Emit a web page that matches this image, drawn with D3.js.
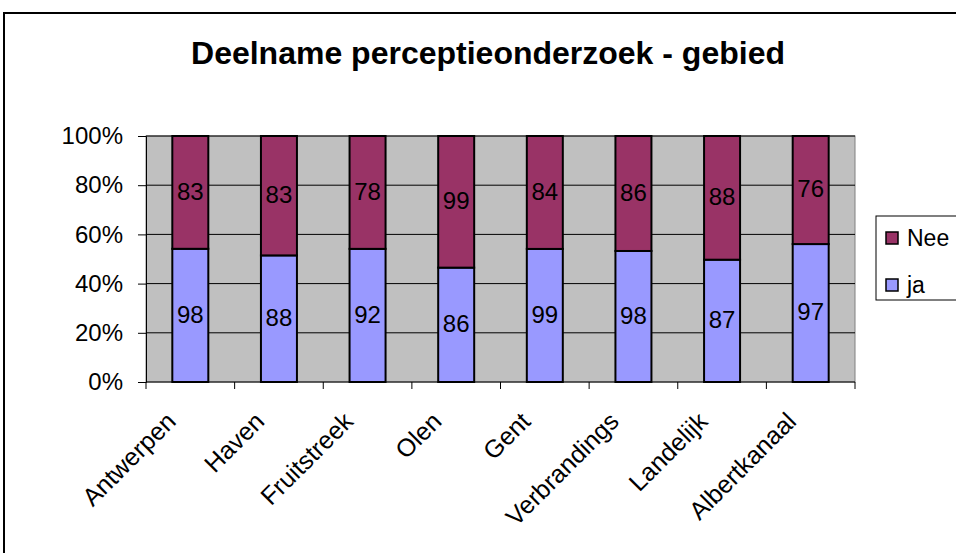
<!DOCTYPE html>
<html>
<head>
<meta charset="utf-8">
<script src="https://cdn.jsdelivr.net/npm/d3@7"></script>
<style>
  body { margin: 0; background: #fff; }
  text { font-family: "Liberation Sans", Arial, sans-serif; }
</style>
</head>
<body>
<svg id="chart" width="956" height="553"></svg>
<script>
// gegevens
var gebieden = ["Antwerpen", "Haven", "Fruitstreek", "Olen", "Gent", "Verbrandings", "Landelijk", "Albertkanaal"];
var ja = [98, 88, 92, 86, 99, 98, 87, 97];
var nee = [83, 83, 78, 99, 84, 86, 88, 76];
var yTicks = [0, 0.2, 0.4, 0.6, 0.8, 1];

var svg = d3.select("#chart");
var pLeft = 146, pRight = 855, pTop = 136, pBottom = 382;
var fs = 24; // lettergrootte

// buitenrand
svg.append("rect")
    .attr("x", 4).attr("y", 13)
    .attr("width", 1000).attr("height", 600)
    .attr("fill", "#fff").attr("stroke", "#000").attr("stroke-width", 2);

// titel
svg.append("text")
    .attr("x", 488).attr("y", 64)
    .attr("text-anchor", "middle")
    .attr("font-size", 32).attr("font-weight", "bold")
    .text("Deelname perceptieonderzoek - gebied");

var x = d3.scaleBand().domain(gebieden).range([pLeft, pRight]);
var y = d3.scaleLinear().domain([0, 1]).range([pBottom, pTop]);

// plotgebied
svg.append("rect")
    .attr("x", pLeft).attr("y", pTop)
    .attr("width", pRight - pLeft).attr("height", pBottom - pTop)
    .attr("fill", "#C0C0C0").attr("stroke", "#808080").attr("stroke-width", 1);

// rasterlijnen
svg.append("g").selectAll("line")
    .data(yTicks.slice(1))
    .enter().append("line")
    .attr("x1", pLeft).attr("x2", pRight)
    .attr("y1", function(d) { return y(d); }).attr("y2", function(d) { return y(d); })
    .attr("stroke", "#000").attr("stroke-width", 1);

// y-as
var yAxis = d3.axisLeft(y).tickValues(yTicks).tickFormat(d3.format(".0%")).tickSize(8).tickPadding(15);
var gy = svg.append("g").attr("transform", "translate(" + pLeft + ",0)").call(yAxis);
gy.select(".domain").attr("stroke", "#000");
gy.selectAll("line").attr("stroke", "#000");
gy.selectAll("text").attr("font-size", fs).attr("fill", "#000")
    .style("font-family", "Liberation Sans, Arial, sans-serif");

// x-as
svg.append("line")
    .attr("x1", pLeft).attr("x2", pRight).attr("y1", pBottom).attr("y2", pBottom)
    .attr("stroke", "#000");
var grenzen = gebieden.map(function(d) { return x(d); }).concat([pRight]);
svg.append("g").selectAll("line")
    .data(grenzen)
    .enter().append("line")
    .attr("x1", function(d) { return d; }).attr("x2", function(d) { return d; })
    .attr("y1", pBottom).attr("y2", pBottom + 7)
    .attr("stroke", "#000");

// gestapelde data
var data = gebieden.map(function(g, i) {
    var t = ja[i] + nee[i];
    return { gebied: g, ja: ja[i] / t, nee: nee[i] / t, jaN: ja[i], neeN: nee[i] };
});
var series = d3.stack().keys(["ja", "nee"])(data);
var kleur = { ja: "#9999FF", nee: "#993366" };
var bw = 36;

series.forEach(function(s) {
    var g = svg.append("g");
    g.selectAll("rect")
        .data(s)
        .enter().append("rect")
        .attr("x", function(d) { return x(d.data.gebied) + x.bandwidth() / 2 - bw / 2; })
        .attr("width", bw)
        .attr("y", function(d) { return y(d[1]); })
        .attr("height", function(d) { return y(d[0]) - y(d[1]); })
        .attr("fill", kleur[s.key])
        .attr("stroke", "#000").attr("stroke-width", 2);
    g.selectAll("text")
        .data(s)
        .enter().append("text")
        .attr("x", function(d) { return x(d.data.gebied) + x.bandwidth() / 2; })
        .attr("y", function(d) { return (y(d[0]) + y(d[1])) / 2; })
        .attr("dy", "0.3em")
        .attr("text-anchor", "middle")
        .attr("font-size", fs)
        .text(function(d) { return s.key === "ja" ? d.data.jaN : d.data.neeN; });
});

// x-labels
svg.append("g").selectAll("text")
    .data(gebieden)
    .enter().append("text")
    .attr("text-anchor", "end")
    .attr("font-size", 25)
    .attr("transform", function(d) {
        return "translate(" + (x(d) + x.bandwidth() / 2 - 13) + "," + (pBottom + 41) + ") rotate(-45)";
    })
    .text(function(d) { return d; });

// legenda
var lg = svg.append("g");
lg.append("rect")
    .attr("x", 876).attr("y", 216).attr("width", 120).attr("height", 84)
    .attr("fill", "#fff").attr("stroke", "#000").attr("stroke-width", 1);
var legItems = [{ k: "nee", t: "Nee" }, { k: "ja", t: "ja" }];
lg.selectAll("g.item")
    .data(legItems)
    .enter().append("g")
    .attr("class", "item")
    .attr("transform", function(d, i) { return "translate(886," + (232 + i * 47) + ")"; })
    .each(function(d) {
        var it = d3.select(this);
        it.append("rect").attr("width", 12).attr("height", 12)
            .attr("fill", kleur[d.k]).attr("stroke", "#000").attr("stroke-width", 1.5);
        it.append("text").attr("x", 21).attr("y", 6).attr("dy", "0.36em")
            .attr("font-size", 23).text(d.t);
    });
</script>
</body>
</html>
